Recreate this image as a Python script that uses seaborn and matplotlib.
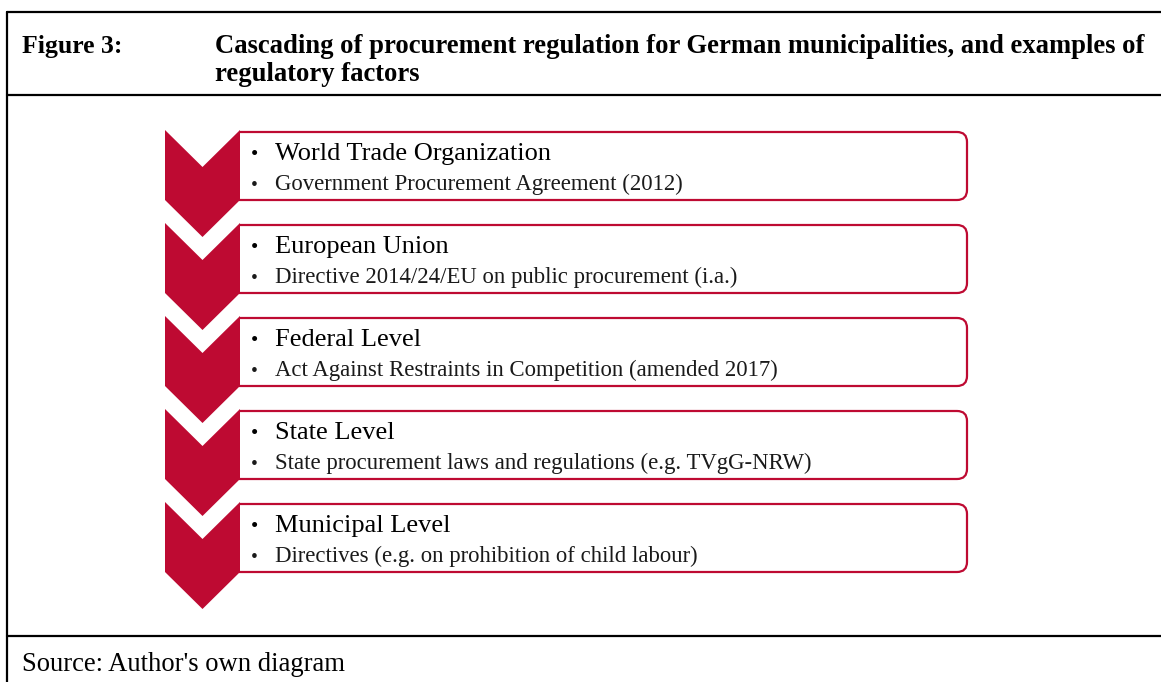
import matplotlib
matplotlib.use("Agg")
import matplotlib.pyplot as plt
import seaborn as sns
from matplotlib.patches import Polygon, FancyBboxPatch, Rectangle

# уровни регулирования и примеры
levels = ["World Trade Organization", "European Union", "Federal Level",
          "State Level", "Municipal Level"]
examples = ["Government Procurement Agreement (2012)",
            "Directive 2014/24/EU on public procurement (i.a.)",
            "Act Against Restraints in Competition (amended 2017)",
            "State procurement laws and regulations (e.g. TVgG-NRW)",
            "Directives (e.g. on prohibition of child labour)"]
fig_label = "Figure 3:"
title_lines = ["Cascading of procurement regulation for German municipalities, and examples of",
               "regulatory factors"]
source = "Source: Author's own diagram"

RED = "#BE0A32"

sns.set_theme(style="white")
plt.rcParams["font.family"] = ["Liberation Serif", "DejaVu Serif"]

W, H = 1161, 682
fig = plt.figure(figsize=(W / 100, H / 100), dpi=100)
ax = fig.add_axes([0, 0, 1, 1])
ax.set_xlim(0, W)
ax.set_ylim(H, 0)
ax.axis("off")

# рамка таблицы
ax.plot([7, 7], [12, H], color="black", lw=1.6)
for y in [12, 95, 636]:
    ax.plot([7, W], [y, y], color="black", lw=1.6)

ax.text(22, 53, fig_label, fontsize=18.5, fontweight="bold", va="baseline", color="black")
for k, line in enumerate(title_lines):
    ax.text(215, 53 + k * 28, line, fontsize=19.2, fontweight="bold", va="baseline", color="black")
ax.text(22, 671, source, fontsize=19.2, va="baseline", color="black")

# шевроны и блоки
step = 93
x0, x1 = 165, 240
xm = (x0 + x1) / 2
for i, (lvl, ex) in enumerate(zip(levels, examples)):
    top = 130 + i * step
    chev = Polygon([(x0, top), (xm, top + 37), (x1, top), (x1, top + 70),
                    (xm, top + 107), (x0, top + 70)],
                   closed=True, facecolor=RED, edgecolor="none", zorder=2)
    ax.add_patch(chev)
    box = FancyBboxPatch((x1 - 14, top + 2), 967 - x1 + 14, 68,
                         boxstyle="round,pad=0,rounding_size=10",
                         facecolor="white", edgecolor=RED, lw=1.6, zorder=1)
    ax.add_patch(box)
    # левый край блока прячем под шевроном
    clip = Rectangle((x1 - 1, top - 5), 800, 80, transform=ax.transData)
    box.set_clip_path(clip)
    ax.text(251, top + 30, "\u2022", fontsize=15, va="baseline", color="black")
    ax.text(275, top + 30, lvl, fontsize=19, va="baseline", color="black")
    ax.text(251, top + 60, "\u2022", fontsize=14, va="baseline", color="#1a1a1a")
    ax.text(275, top + 60, ex, fontsize=16.4, va="baseline", color="#1a1a1a")

fig.savefig("out.png", dpi=100)
